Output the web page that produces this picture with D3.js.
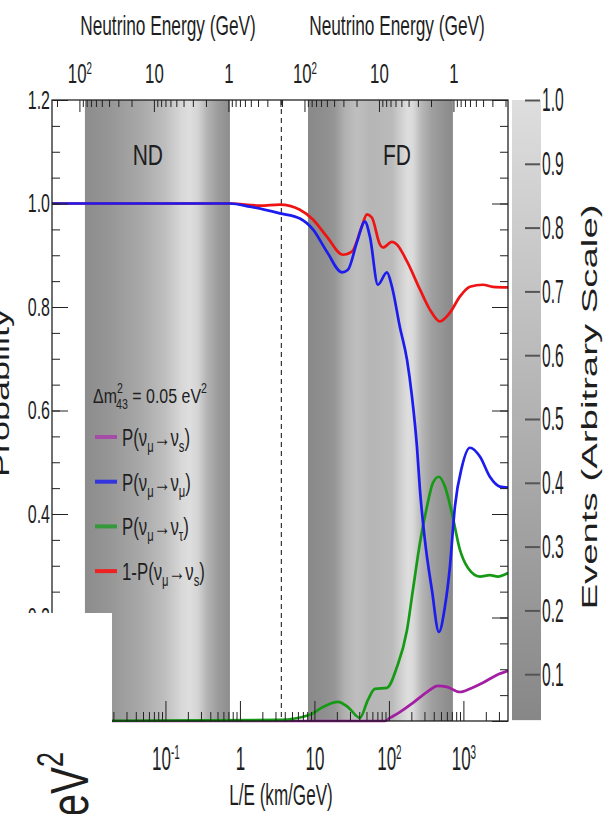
<!DOCTYPE html>
<html>
<head>
<meta charset="utf-8">
<script src="https://cdn.jsdelivr.net/npm/d3@7"></script>
<style>
body { margin: 0; background: #fff; }
text { font-family: "Liberation Sans", Arial, sans-serif; fill: #1e1e1e; }
</style>
</head>
<body>
<svg id="chart" width="613" height="814"></svg>
<script>
// baselines (km) used for the two energy axes on top
const lengthND = 0.7;
const lengthFD = 735;

const leDomain = [0.003, 3970];
const probDomain = [0, 1.2];
const colorbarRange = [0.028, 1];
const dashedLE = 3.6;

const leTickLabels = [0.1, 1, 10, 100, 1000];
const energyTickLabels = [100, 10, 1];
const probTickLabels = [0.2, 0.4, 0.6, 0.8, 1.0, 1.2];
const eventTickLabels = [0.1, 0.2, 0.3, 0.4, 0.5, 0.6, 0.7, 0.8, 0.9, 1.0];

// detector bands in L/E and their event shading [L/E, events]
const bandND = [0.0083, 0.734];
const bandFD = [8.2, 723];
const shadeND = [[0.0083, 0.09], [0.018, 0.2], [0.0455, 0.4], [0.0985, 0.64], [0.166, 0.93],
                 [0.213, 1.0], [0.273, 0.89], [0.36, 0.53], [0.507, 0.27], [0.734, 0.09]];
const shadeFD = [[8.2, 0.06], [14, 0.12], [18.8, 0.2], [25.7, 0.5], [37, 0.65], [56, 0.55],
                 [110, 0.6], [140, 0.8], [180, 1.0], [210, 0.95], [277, 0.55], [378, 0.3], [723, 0.05]];

// curves: [L/E, probability]
const probMuS = [[0.003, 0], [88, 0], [103, 0.006], [140, 0.017], [210, 0.035], [324, 0.056],
                 [455, 0.068], [601, 0.066], [897, 0.056], [1300, 0.064], [1828, 0.074],
                 [2818, 0.089], [3970, 0.097]];
const probMuMu = [[0.003, 1.0], [0.734, 1.0], [1.36, 0.994], [3.44, 0.981], [6.39, 0.971],
                  [9.55, 0.950], [14.7, 0.907], [23.4, 0.867], [28.2, 0.872], [37.2, 0.925],
                  [47.6, 0.965], [55.6, 0.936], [71.2, 0.843], [94, 0.867], [110, 0.839],
                  [140, 0.762], [175, 0.698], [204, 0.627], [238, 0.530], [261, 0.447],
                  [304, 0.350], [378, 0.253], [469, 0.172], [565, 0.221], [659, 0.298],
                  [769, 0.414], [955, 0.491], [1222, 0.528], [1665, 0.511], [2268, 0.472],
                  [3090, 0.453], [3970, 0.451]];
const probMuTau = [[0.003, 0], [3.44, 0.002], [8.7, 0.012], [13, 0.027], [20.7, 0.037],
                   [28.2, 0.027], [40.8, 0.006], [52.3, 0.041], [64.9, 0.062], [94, 0.064],
                   [128, 0.104], [175, 0.176], [210, 0.253], [261, 0.344], [324, 0.414],
                   [390, 0.460], [469, 0.472], [565, 0.453], [701, 0.402], [897, 0.331],
                   [1148, 0.296], [1665, 0.279], [2268, 0.282], [2905, 0.279], [3970, 0.286]];
const oneMinusMuS = [[0.003, 1.0], [0.734, 1.0], [1.86, 0.996], [3.44, 0.998], [6.39, 0.988],
                     [9.55, 0.969], [14.7, 0.936], [24.1, 0.901], [31.9, 0.907], [43.4, 0.956],
                     [50.7, 0.979], [59.1, 0.973], [75.7, 0.921], [83, 0.915], [110, 0.926],
                     [128, 0.921], [175, 0.888], [261, 0.834], [355, 0.795], [484, 0.772],
                     [659, 0.789], [897, 0.820], [1222, 0.839], [1828, 0.843], [2490, 0.839],
                     [3970, 0.838]];

const seriesColors = ["#a21ea2", "#1c1cee", "#169a16", "#ee1414"];
const legendColors = ["#a64ca6", "#3535dd", "#33993a", "#ee2222"];
const seriesData = [probMuS, probMuTau, oneMinusMuS, probMuMu];
const drawColors = [seriesColors[0], seriesColors[2], seriesColors[3], seriesColors[1]];

const svg = d3.select("#chart");
const defs = svg.append("defs");

const x = d3.scaleLog().domain(leDomain).range([52, 508]);
const y = d3.scaleLinear().domain(probDomain).range([721, 100]);
const ev = d3.scaleLinear().domain([0, 1]).range([738, 100]);
const gray = d3.scaleLinear().domain([0, 1]).range(["#848484", "#dedede"]);

const plotTop = y(1.2), plotBottom = y(0), plotLeft = x(leDomain[0]), plotRight = x(leDomain[1]);

function isDecade(d) {
    const l = Math.log10(d);
    return Math.abs(l - Math.round(l)) < 1e-6;
}

function powLabels(g) {
    g.selectAll(".tick text").each(function(d) {
        const p = Math.round(Math.log10(d));
        const t = d3.select(this).text("");
        if (p === 0) t.text("1");
        else if (p === 1) t.text("10");
        else {
            t.append("tspan").text("10");
            t.append("tspan").attr("dy", "-0.55em").attr("font-size", "58%").text(p);
        }
    });
}

function condense(g, sx) {
    g.selectAll(".tick text").each(function() {
        const t = d3.select(this);
        const x0 = +t.attr("x") || 0;
        t.attr("x", x0 / sx).attr("transform", `scale(${sx},1)`);
    });
}

function addText(x0, y0, str, size, sx, anchor) {
    return svg.append("text")
        .attr("transform", `translate(${x0},${y0}) scale(${sx},1)`)
        .attr("font-size", size)
        .attr("text-anchor", anchor || "start")
        .text(str);
}

// detector bands
[["nd", bandND, shadeND], ["fd", bandFD, shadeFD]].forEach(([id, band, shade]) => {
    const x0 = x(band[0]), x1 = x(band[1]);
    const grad = defs.append("linearGradient")
        .attr("id", "grad-" + id)
        .attr("gradientUnits", "userSpaceOnUse")
        .attr("x1", x0).attr("x2", x1).attr("y1", 0).attr("y2", 0);
    grad.selectAll("stop")
        .data(shade)
        .enter()
        .append("stop")
        .attr("offset", d => (x(d[0]) - x0) / (x1 - x0))
        .attr("stop-color", d => gray(d[1]));
    svg.append("rect")
        .attr("x", x0).attr("y", plotTop)
        .attr("width", x1 - x0).attr("height", plotBottom - plotTop)
        .attr("fill", `url(#grad-${id})`);
});

// dashed divider
svg.append("line")
    .attr("x1", x(dashedLE)).attr("x2", x(dashedLE))
    .attr("y1", plotTop).attr("y2", plotBottom)
    .attr("stroke", "#333").attr("stroke-width", 1.2)
    .attr("stroke-dasharray", "5,4");

// curves
defs.append("clipPath").attr("id", "plot-clip")
    .append("rect").attr("x", plotLeft).attr("y", plotTop - 2)
    .attr("width", plotRight - plotLeft).attr("height", plotBottom - plotTop + 6);

const line = d3.line()
    .x(d => x(d[0]))
    .y(d => y(d[1]))
    .curve(d3.curveMonotoneX);

svg.append("g").attr("clip-path", "url(#plot-clip)")
    .selectAll("path")
    .data(seriesData)
    .enter()
    .append("path")
    .attr("d", line)
    .attr("fill", "none")
    .attr("stroke", (d, i) => drawColors[i])
    .attr("stroke-width", 2.7)
    .attr("stroke-linejoin", "round");

// frame
svg.append("rect")
    .attr("x", plotLeft).attr("y", plotTop)
    .attr("width", plotRight - plotLeft).attr("height", plotBottom - plotTop)
    .attr("fill", "none").attr("stroke", "#111").attr("stroke-width", 1.2);

const tickStyle = g => {
    g.select(".domain").remove();
    g.selectAll(".tick line").attr("stroke", "#222");
};

// left and right probability axes
const probMinor = d3.range(0, 1.2001, 0.05);
const probMajor = [0].concat(probTickLabels);
svg.append("g").attr("transform", `translate(${plotLeft},0)`)
    .call(d3.axisLeft(y).tickValues(probMinor).tickSize(-8).tickFormat(""))
    .call(tickStyle);
const yAxis = svg.append("g").attr("transform", `translate(${plotLeft},0)`)
    .call(d3.axisLeft(y).tickValues(probMajor).tickSize(-16).tickPadding(2)
        .tickFormat(d => probTickLabels.includes(d) ? d3.format(".1f")(d) : ""))
    .call(tickStyle);
yAxis.selectAll(".tick text").attr("font-size", 25).attr("fill", "#1e1e1e");
condense(yAxis, 0.64);

svg.append("g").attr("transform", `translate(${plotRight},0)`)
    .call(d3.axisRight(y).tickValues(probMinor).tickSize(-8).tickFormat(""))
    .call(tickStyle);
svg.append("g").attr("transform", `translate(${plotRight},0)`)
    .call(d3.axisRight(y).tickValues(probMajor).tickSize(-16).tickFormat(""))
    .call(tickStyle);

// bottom L/E axis
const leTicks = x.ticks();
svg.append("g").attr("transform", `translate(0,${plotBottom})`)
    .call(d3.axisBottom(x).tickValues(leTicks.filter(d => !isDecade(d) || d < 0.05)).tickSize(-9).tickFormat(""))
    .call(tickStyle);
const xAxis = svg.append("g").attr("transform", `translate(0,${plotBottom})`)
    .call(d3.axisBottom(x).tickValues(leTickLabels).tickSize(-20))
    .call(tickStyle);
xAxis.selectAll(".tick text").attr("y", 49).attr("dy", 0).attr("font-size", 34).attr("fill", "#1e1e1e");
powLabels(xAxis);
condense(xAxis, 0.5);

// top energy axes, one per detector
const energyAxes = [[lengthND, leDomain[0], dashedLE], [lengthFD, dashedLE, leDomain[1]]];
energyAxes.forEach(([L, le0, le1]) => {
    const eScale = d3.scaleLog().domain([L / le0, L / le1]).range([x(le0), x(le1)]);
    const eTicks = eScale.ticks().filter(d => eScale(d) >= plotLeft && eScale(d) <= plotRight);
    svg.append("g").attr("transform", `translate(0,${plotTop})`)
        .call(d3.axisTop(eScale).tickValues(eTicks.filter(d => !isDecade(d))).tickSize(-7).tickFormat(""))
        .call(tickStyle);
    const eAxis = svg.append("g").attr("transform", `translate(0,${plotTop})`)
        .call(d3.axisTop(eScale).tickValues(energyTickLabels).tickSize(-12))
        .call(tickStyle);
    eAxis.selectAll(".tick text").attr("y", -17).attr("font-size", 28).attr("fill", "#1e1e1e");
    powLabels(eAxis);
    condense(eAxis, 0.6);
});

// axis titles
addText(168, 35, "Neutrino Energy (GeV)", 27, 0.64, "middle");
addText(397, 35, "Neutrino Energy (GeV)", 27, 0.64, "middle");
addText(281, 805, "L/E (km/GeV)", 30, 0.57, "middle");
svg.append("text")
    .attr("transform", "translate(9,393) rotate(-90)")
    .attr("font-size", 24).attr("text-anchor", "middle")
    .attr("textLength", 168).attr("lengthAdjust", "spacingAndGlyphs")
    .text("Probability");
svg.append("text")
    .attr("transform", "translate(597,407) rotate(-90)")
    .attr("font-size", 22).attr("text-anchor", "middle")
    .attr("textLength", 405).attr("lengthAdjust", "spacingAndGlyphs")
    .text("Events (Arbitrary Scale)");

// band labels
addText(x(0.058), 165, "ND", 30, 0.7, "middle");
addText(x(128), 165, "FD", 30, 0.7, "middle");

// legend
const lg = svg.append("g").attr("transform", "translate(93,403) scale(0.76,1)");
const dm = lg.append("text").attr("font-size", 21);
dm.append("tspan").text("Δm");
dm.append("tspan").attr("font-size", 14).attr("dy", -10).text("2");
dm.append("tspan").attr("font-size", 14).attr("dx", -9).attr("dy", 16).text("43");
dm.append("tspan").attr("dy", -6).text(" = 0.05 eV");
dm.append("tspan").attr("font-size", 14).attr("dy", -10).text("2");

const legendLabels = [["", "s"], ["", "μ"], ["", "τ"], ["1-", "s"]];
legendLabels.forEach(([pre, target], i) => {
    const rowY = 437 + i * 44.7;
    svg.append("line")
        .attr("x1", 95).attr("x2", 117).attr("y1", rowY).attr("y2", rowY)
        .attr("stroke", legendColors[i]).attr("stroke-width", 4);
    const t = svg.append("text")
        .attr("transform", `translate(122,${rowY + 9}) scale(0.7,1)`)
        .attr("font-size", 24);
    t.append("tspan").text(pre + "P(ν");
    t.append("tspan").attr("font-size", 16).attr("dy", 6).text("μ");
    t.append("tspan").attr("dy", -6).text("→ν");
    t.append("tspan").attr("font-size", 16).attr("dy", 6).text(target);
    t.append("tspan").attr("dy", -6).text(")");
});

// colorbar
const cbGrad = defs.append("linearGradient")
    .attr("id", "grad-cb").attr("gradientUnits", "userSpaceOnUse")
    .attr("x1", 0).attr("x2", 0)
    .attr("y1", ev(colorbarRange[0])).attr("y2", ev(colorbarRange[1]));
cbGrad.append("stop").attr("offset", 0).attr("stop-color", gray(colorbarRange[0]));
cbGrad.append("stop").attr("offset", 1).attr("stop-color", gray(colorbarRange[1]));
svg.append("rect")
    .attr("x", 512).attr("y", ev(colorbarRange[1]))
    .attr("width", 29).attr("height", ev(colorbarRange[0]) - ev(colorbarRange[1]))
    .attr("fill", "url(#grad-cb)");
const cbAxis = svg.append("g").attr("transform", "translate(525,0)")
    .call(d3.axisRight(ev).tickValues(eventTickLabels).tickSize(15).tickPadding(2).tickFormat(d3.format(".1f")));
cbAxis.select(".domain").remove();
cbAxis.selectAll(".tick line").attr("stroke", "#555").attr("stroke-width", 2);
cbAxis.selectAll(".tick text").attr("font-size", 34).attr("fill", "#1e1e1e");
condense(cbAxis, 0.46);

// white patch over the lower left corner
svg.append("rect")
    .attr("x", 0).attr("y", 613)
    .attr("width", 112).attr("height", 113)
    .attr("fill", "#fff");

// stray unit text at the bottom left
const unit = svg.append("text")
    .attr("transform", "translate(88,752) rotate(-90) scale(0.75,1)")
    .attr("font-size", 54).attr("text-anchor", "end")
    .attr("fill", "#1a1a1a");
unit.append("tspan").text("eV");
unit.append("tspan").attr("font-size", 36).attr("dy", -25).text("2");
</script>
</body>
</html>
